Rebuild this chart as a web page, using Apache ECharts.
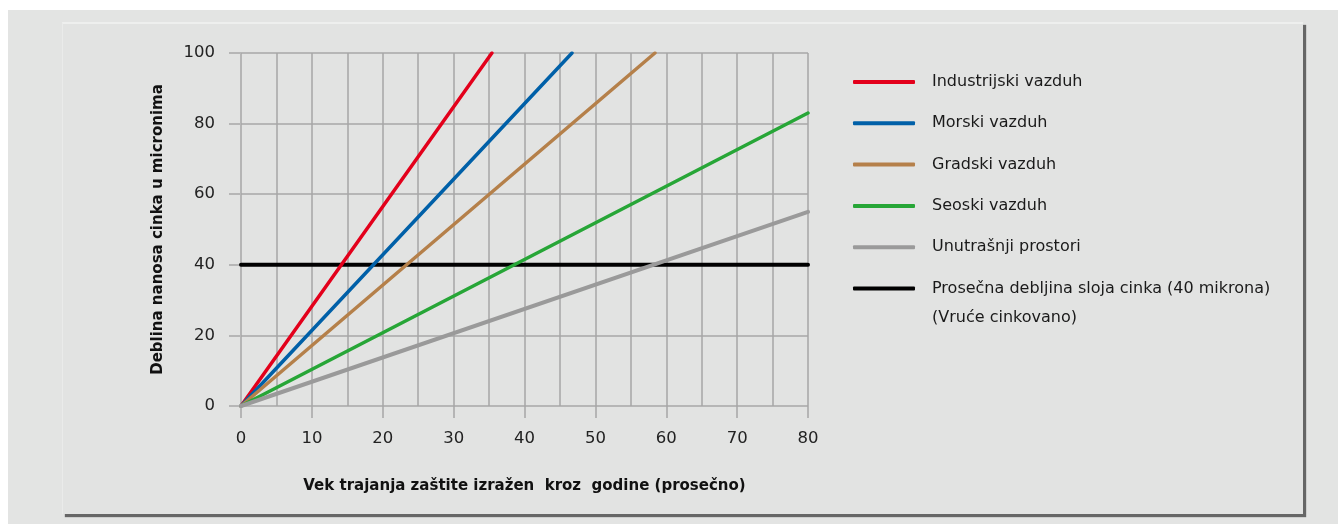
<!DOCTYPE html>
<html>
<head>
<meta charset="utf-8">
<script src="https://cdn.jsdelivr.net/npm/echarts@6/dist/echarts.min.js"></script>
<style>
  html, body { margin: 0; padding: 0; background: #ffffff; }
  #outer { position: absolute; left: 8px; top: 10px; right: 0; bottom: 0; background: #e3e4e3; }
  #panel { position: absolute; left: 62px; top: 22px; width: 1240px; height: 490px; background: #e2e3e2;
           border-top: 2px solid #eeefee; border-left: 1px solid #eaebea;
           box-shadow: 3px 3px 1px rgba(60,60,60,0.75); }
  #chart { position: absolute; left: 0; top: 0; width: 1338px; height: 524px; }
</style>
</head>
<body>
<div id="outer"></div>
<div id="panel"></div>
<div id="chart"></div>
<script>
// ---- data ----
const seriesNames = ['Industrijski vazduh', 'Morski vazduh', 'Gradski vazduh', 'Seoski vazduh', 'Unutrašnji prostori', 'Prosečna debljina sloja cinka (40 mikrona)'];
const legendSecondLine = '(Vruće cinkovano)';
const industrijski = [[0, 0], [35.4, 100]];
const morski = [[0, 0], [46.7, 100]];
const gradski = [[0, 0], [58.4, 100]];
const seoski = [[0, 0], [80, 83]];
const unutrasnji = [[0, 0], [80, 55]];
const prosecnaDebljina = [[0, 40], [80, 40]];
const xTicks = [0, 10, 20, 30, 40, 50, 60, 70, 80];
const yTicks = [0, 20, 40, 60, 80, 100];
const xAxisName = 'Vek trajanja zaštite izražen  kroz  godine (prosečno)';
const yAxisName = 'Deblina nanosa cinka u micronima';

const colors = ['#e3001b', '#0060a8', '#b5804a', '#27a637', '#9a9a9a', '#000000'];
const seriesData = [industrijski, morski, gradski, seoski, unutrasnji, prosecnaDebljina];
const widths = [3.5, 3.5, 3.5, 3.5, 4, 4];
const zs = [3, 3, 3, 3, 3, 2];

const chart = echarts.init(document.getElementById('chart'), null, { renderer: 'canvas' });
const font = '"DejaVu Sans", "Liberation Sans", Arial, sans-serif';
const vGrid = { color: '#a6a6a6', width: 1.5 };
const hGrid = { color: '#b6b6b6', width: 2 };

const series = seriesData.map((d, i) => ({
  name: seriesNames[i],
  type: 'line',
  data: d,
  color: colors[i],
  showSymbol: false,
  symbol: 'none',
  z: zs[i],
  lineStyle: { color: colors[i], width: widths[i], cap: 'round' },
  itemStyle: { color: colors[i] },
  emphasis: { disabled: true },
  animation: false
}));

chart.setOption({
  animation: false,
  backgroundColor: 'transparent',
  grid: { left: 241, right: 530, top: 53, bottom: 118, containLabel: false },
  xAxis: {
    type: 'value', min: xTicks[0], max: xTicks[xTicks.length - 1], interval: xTicks[1] - xTicks[0],
    name: xAxisName, nameLocation: 'middle', nameGap: 73,
    nameTextStyle: { fontFamily: font, fontWeight: 'bold', fontSize: 15, color: '#111' },
    axisLine: { show: false },
    axisTick: { show: true, length: 12, lineStyle: vGrid },
    axisLabel: { margin: 24, fontFamily: font, fontSize: 16.5, color: '#222' },
    splitLine: { show: true, lineStyle: vGrid },
    minorTick: { show: false, splitNumber: 2 },
    minorSplitLine: { show: true, lineStyle: vGrid }
  },
  yAxis: {
    type: 'value', min: yTicks[0], max: yTicks[yTicks.length - 1], interval: yTicks[1] - yTicks[0],
    name: yAxisName, nameLocation: 'middle', nameGap: 75,
    nameTextStyle: { fontFamily: font, fontWeight: 'bold', fontSize: 15, color: '#111' },
    axisLine: { show: false },
    axisTick: { show: true, length: 12, lineStyle: hGrid },
    axisLabel: { margin: 26, fontFamily: font, fontSize: 16.5, color: '#222' },
    splitLine: { show: true, lineStyle: hGrid }
  },
  legend: {
    orient: 'vertical', left: 853, top: 72, padding: 0,
    itemWidth: 62, itemHeight: 4, itemGap: 21.3,
    icon: 'roundRect',
    selectedMode: false,
    formatter: (name) => '{t|' + name + '}',
    textStyle: {
      fontFamily: font, fontSize: 16, color: '#1a1a1a', lineHeight: 20,
      rich: { t: { fontFamily: font, fontSize: 16, color: '#1a1a1a', lineHeight: 20, padding: [0, 0, 0, 12] } }
    },
    data: seriesNames.map((n, i) => ({ name: n, itemStyle: { color: colors[i] } }))
  },
  graphic: [{
    type: 'text', left: 932, top: 310,
    style: { text: legendSecondLine, fontFamily: font, fontSize: 16, fill: '#1a1a1a' }
  }],
  series: series
});
</script>
</body>
</html>
